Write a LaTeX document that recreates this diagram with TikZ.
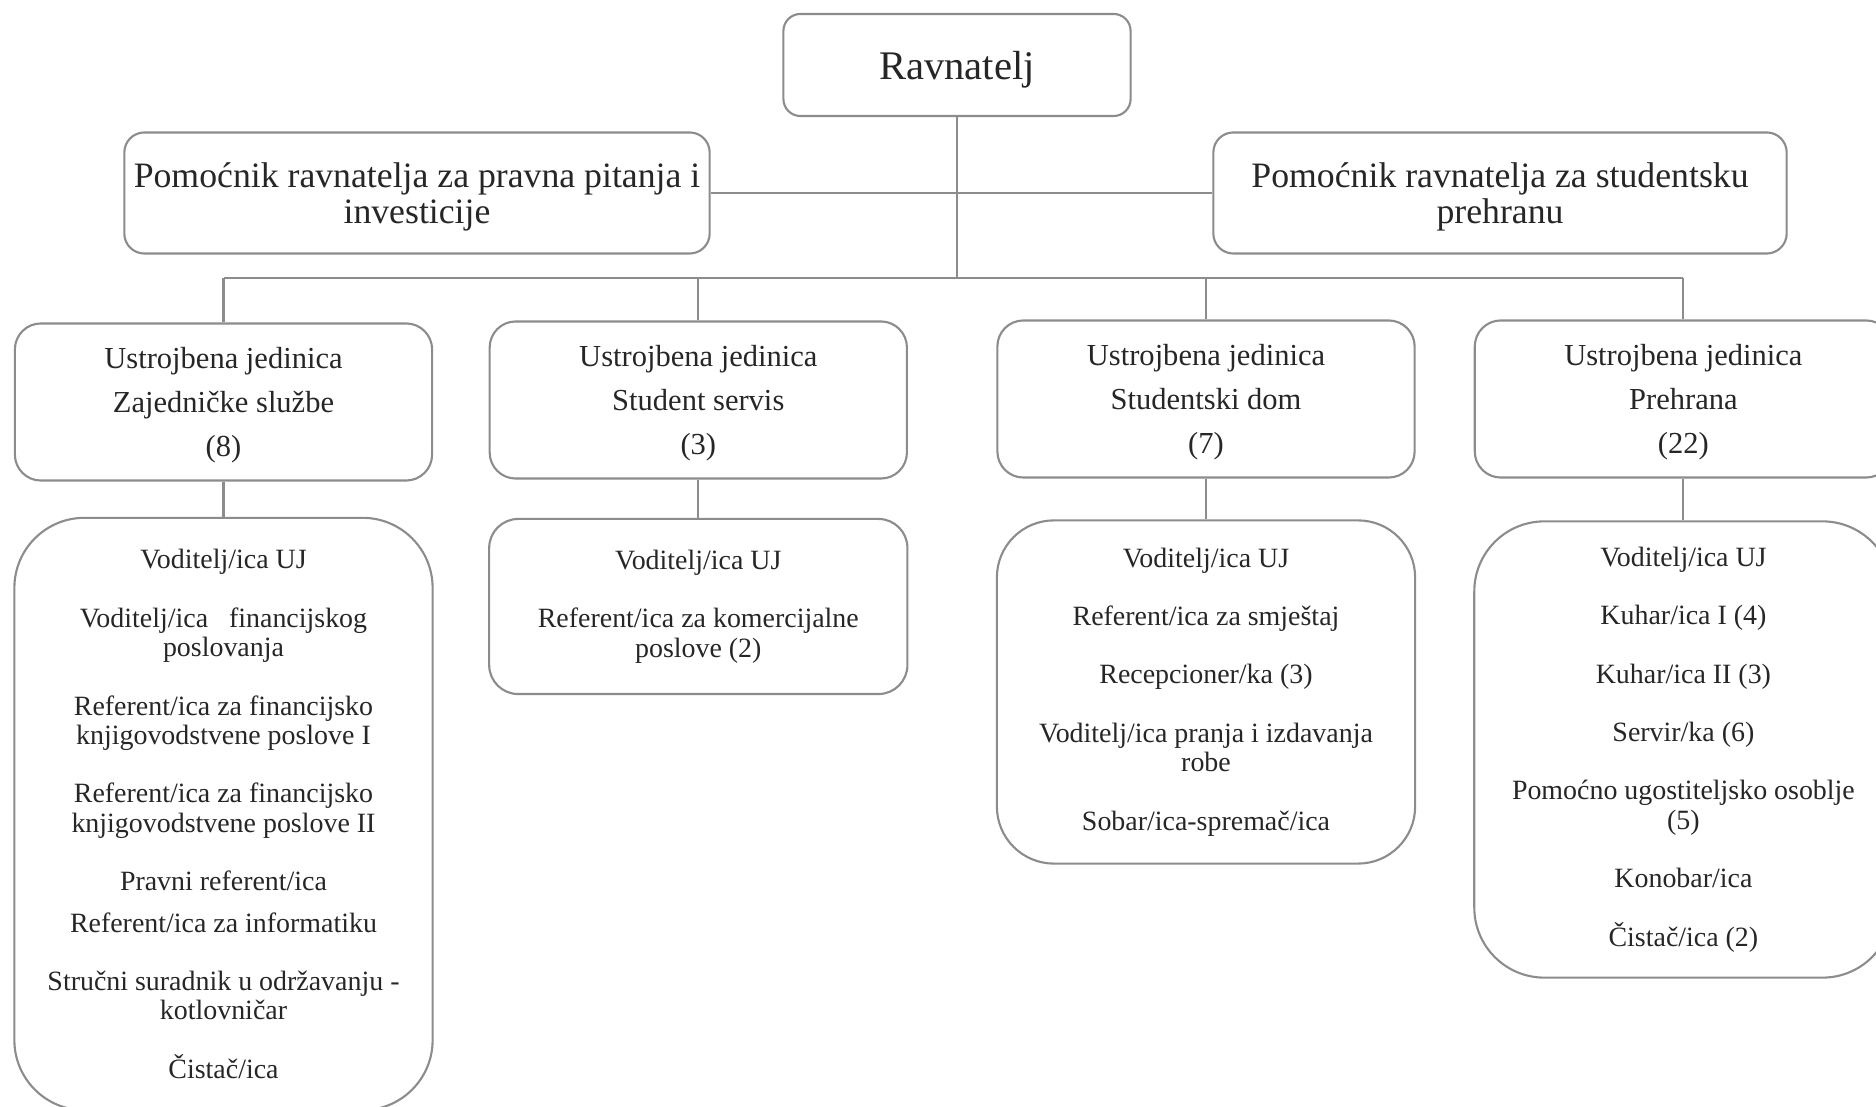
\documentclass[tikz,border=0pt]{standalone}
\usepackage{fontspec}
\setmainfont{Liberation Serif}
\usepackage{tikz}
\definecolor{linegray}{HTML}{8C8C8C}
\definecolor{textgray}{HTML}{262626}
\tikzstyle{wire}=[draw=linegray,line width=0.6pt]
\tikzstyle{chief}=[draw=linegray,line width=0.6pt,rounded corners=0.17cm,text=textgray,align=center,inner sep=0pt,text depth=0pt,minimum width=3.47cm,minimum height=1.02cm,font=\fontsize{11.55}{13}\selectfont]
\tikzstyle{deputy}=[draw=linegray,line width=0.6pt,rounded corners=0.2cm,text=textgray,align=center,inner sep=0pt,text depth=0pt,minimum width=5.8cm,minimum height=1.21cm,font=\fontsize{10.16}{10.2}\selectfont]
\tikzstyle{unit}=[draw=linegray,line width=0.6pt,rounded corners=0.26cm,text=textgray,align=center,inner sep=0pt,text depth=0pt,minimum width=4.17cm,minimum height=1.57cm,font=\fontsize{8.68}{12.4}\selectfont]
\tikzstyle{staff}=[draw=linegray,line width=0.6pt,rounded corners=0.7cm,text=textgray,align=center,inner sep=0pt,minimum width=4.18cm,font=\fontsize{7.94}{8.4}\selectfont]

\begin{document}
\begin{tikzpicture}[x=0.01cm,y=-0.01cm]
    \useasboundingbox (0,0) rectangle (1876,1107);
    \node[chief] (rav) at (957,65) {Ravnatelj};
    \node[deputy,minimum width=5.85cm] (pl) at (417,193) {Pomoćnik ravnatelja za pravna pitanja i\\investicije};
    \node[deputy,minimum width=5.73cm] (pr) at (1500,193) {Pomoćnik ravnatelja za studentsku\\prehranu};

    \node[unit] (u1) at (223.5,402) {Ustrojbena jedinica\\Zajedničke službe\\(8)};
    \node[unit] (u2) at (698.3,400) {Ustrojbena jedinica\\Student servis\\(3)};
    \node[unit] (u3) at (1206,399) {Ustrojbena jedinica\\Studentski dom\\(7)};
    \node[unit] (u4) at (1683.4,399) {Ustrojbena jedinica\\Prehrana\\(22)};

    \node[staff,minimum height=5.92cm] (d1) at (223.5,814) {Voditelj/ica UJ\\[8.2pt]
        Voditelj/ica~~~financijskog\\poslovanja\\[8.2pt]
        Referent/ica za financijsko\\knjigovodstvene poslove I\\[8.2pt]
        Referent/ica za financijsko\\knjigovodstvene poslove II\\[8.2pt]
        Pravni referent/ica\\[3.3pt]
        Referent/ica za informatiku\\[8.2pt]
        Stručni suradnik u održavanju -\\kotlovničar\\[8.2pt]
        Čistač/ica};
    \node[staff,rounded corners=0.29cm,minimum height=1.75cm] (d2) at (698.3,606.5) {Voditelj/ica UJ\\[8.2pt]
        Referent/ica za komercijalne\\poslove (2)};
    \node[staff,rounded corners=0.57cm,minimum height=3.43cm] (d3) at (1206,692) {Voditelj/ica UJ\\[8.2pt]
        Referent/ica za smještaj\\[8.2pt]
        Recepcioner/ka (3)\\[8.2pt]
        Voditelj/ica pranja i izdavanja\\robe\\[8.2pt]
        Sobar/ica-spremač/ica};
    \node[staff,minimum height=4.56cm] (d4) at (1683.4,749.5) {Voditelj/ica UJ\\[8.2pt]
        Kuhar/ica I (4)\\[8.2pt]
        Kuhar/ica II (3)\\[8.2pt]
        Servir/ka (6)\\[8.2pt]
        Pomoćno ugostiteljsko osoblje\\(5)\\[8.2pt]
        Konobar/ica\\[8.2pt]
        Čistač/ica (2)};

    \coordinate (bus) at (957,277.6);
    \draw[wire] (rav) -- (bus);
    \draw[wire] (pl) -- (pr);
    \draw[wire] (u1.north |- bus) -- (u4.north |- bus);
    \foreach \u in {u1,u2,u3,u4}
    \draw[wire] (\u.north) -- (\u.north |- bus);
    \foreach \from/\to in {u1/d1,u2/d2,u3/d3,u4/d4}
    \draw[wire] (\from) -- (\to);
\end{tikzpicture}
\end{document}
